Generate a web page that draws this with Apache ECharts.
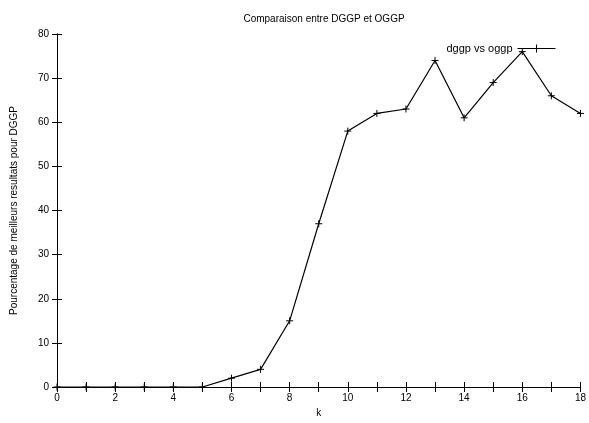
<!DOCTYPE html>
<html>
<head>
<meta charset="utf-8">
<script src="https://cdn.jsdelivr.net/npm/echarts@6/dist/echarts.min.js"></script>
<style>
html, body { margin: 0; padding: 0; background: #fff; }
#chart { width: 589px; height: 423px; }
</style>
</head>
<body>
<div id="chart"></div>
<script>
// k values and percentage
var kValues = [0, 1, 2, 3, 4, 5, 6, 7, 8, 9, 10, 11, 12, 13, 14, 15, 16, 17, 18];
var pctDggp = [0, 0, 0, 0, 0, 0, 2, 4, 15, 37, 58, 62, 63, 74, 61, 69, 76, 66, 62];
var xTickLabels = ['0', '2', '4', '6', '8', '10', '12', '14', '16', '18'];
var yTickLabels = ['0', '10', '20', '30', '40', '50', '60', '70', '80'];

var seriesData = kValues.map(function(k, i) {
    return [k, pctDggp[i]];
});

var txt = { color: '#000', fontFamily: 'Liberation Sans, Arial, sans-serif', fontSize: 10 };
var plus = 'path://M0,5L10,5M5,0L5,10';

var myChart = echarts.init(document.getElementById('chart'));
var option = {
    backgroundColor: '#fff',
    animation: false,
    title: {
        text: 'Comparaison entre DGGP et OGGP',
        left: 319,
        textAlign: 'center',
        top: 9,
        textStyle: { color: '#000', fontFamily: txt.fontFamily, fontSize: 10, fontWeight: 'normal' }
    },
    legend: {
        right: 28,
        top: 38,
        align: 'right',
        itemWidth: 38,
        itemHeight: 8,
        itemGap: 0,
        textStyle: { color: '#000', fontFamily: txt.fontFamily, fontSize: 11 },
        itemStyle: { color: '#000', borderColor: '#000', borderWidth: 1 },
        data: [{ name: 'dggp vs oggp', icon: 'path://M0,5L38,5M19,1L19,9' }]
    },
    grid: { left: 57, right: 8, top: 34, bottom: 36 },
    xAxis: [{
        type: 'value',
        min: 0, max: 18, interval: 1,
        name: 'k', nameLocation: 'middle', nameGap: 20,
        nameTextStyle: txt,
        axisLine: { lineStyle: { color: '#000', width: 1 } },
        axisTick: { inside: true, length: 5, lineStyle: { color: '#000' } },
        axisLabel: {
            color: '#000', fontFamily: txt.fontFamily, fontSize: 10, margin: 6,
            formatter: function(v) {
                return xTickLabels.indexOf(String(v)) >= 0 ? String(v) : '';
            }
        },
        splitLine: { show: false }
    }, {
        type: 'value', position: 'top',
        min: 0, max: 18, interval: 1,
        axisLine: { lineStyle: { color: '#000', width: 1 } },
        axisTick: { inside: true, length: 5, lineStyle: { color: '#000' } },
        axisLabel: { show: false },
        splitLine: { show: false }
    }],
    yAxis: [{
        type: 'value',
        min: 0, max: 80, interval: 10,
        name: 'Pourcentage de meilleurs resultats pour DGGP',
        nameLocation: 'middle', nameGap: 38,
        nameTextStyle: txt,
        axisLine: { show: true, lineStyle: { color: '#000', width: 1 } },
        axisTick: { show: true, inside: true, length: 5, lineStyle: { color: '#000' } },
        axisLabel: {
            color: '#000', fontFamily: txt.fontFamily, fontSize: 10, margin: 8,
            formatter: function(v) {
                return yTickLabels.indexOf(String(v)) >= 0 ? String(v) : '';
            }
        },
        splitLine: { show: false }
    }, {
        type: 'value', position: 'right',
        min: 0, max: 80, interval: 10,
        axisLine: { show: true, lineStyle: { color: '#000', width: 1 } },
        axisTick: { show: true, inside: true, length: 5, lineStyle: { color: '#000' } },
        axisLabel: { show: false },
        splitLine: { show: false }
    }],
    series: [{
        name: 'dggp vs oggp',
        type: 'line',
        data: seriesData,
        symbol: plus,
        symbolSize: 7,
        showAllSymbol: true,
        lineStyle: { color: '#000', width: 1.2 },
        itemStyle: { color: '#000', borderColor: '#000', borderWidth: 1 }
    }]
};
myChart.setOption(option);
</script>
</body>
</html>
